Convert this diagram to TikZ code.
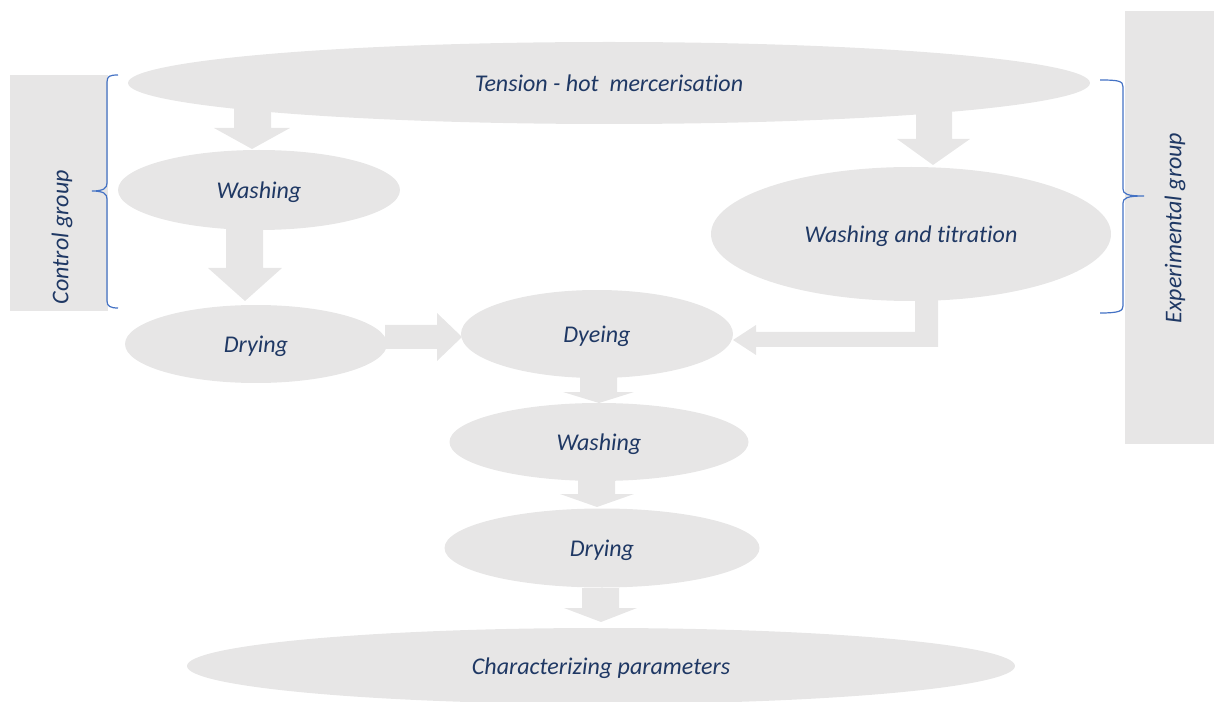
\documentclass[tikz,border=0pt]{standalone}
\usepackage{fontspec}
\setmainfont[Ligatures=NoCommon]{Carlito}
\usetikzlibrary{shapes.geometric}
\definecolor{boxgray}{HTML}{E7E6E6}
\definecolor{navy}{HTML}{1F3864}
\definecolor{braceblue}{HTML}{4472C4}
\tikzset{
  ell/.style 2 args={ellipse, fill=boxgray, draw=none, inner sep=0pt,
     minimum width=#1*0.75pt, minimum height=#2*0.75pt,
     text height=15.3pt, text depth=2.3pt,
     font=\fontsize{18}{21}\selectfont\itshape, text=navy},
  grouplabel/.style={rotate=90, font=\fontsize{18}{21}\selectfont\itshape, text=navy, inner sep=0pt},
  blockarrow/.style={fill=boxgray, draw=none},
  bracestyle/.style={draw=braceblue, line width=0.9pt},
}
\begin{document}
\begin{tikzpicture}[x=0.75pt, y=-0.75pt]
\useasboundingbox (0,0) rectangle (1214,702);
% group panels
\fill[boxgray] (10,75) rectangle (108,311);
\fill[boxgray] (1125,11) rectangle (1214,444);
\node[grouplabel] (ctrl) at (62,237) {Control group};
\node[grouplabel] (exp) at (1175,228) {Experimental group};

% block arrows
\fill[blockarrow] (234,100) -- (271,100) -- (271,128) -- (290,128) -- (252,149) -- (214,128) -- (234,128) -- cycle;
\fill[blockarrow] (916,105) -- (952,105) -- (952,139) -- (970,139) -- (933,165) -- (897,139) -- (916,139) -- cycle;
\fill[blockarrow] (226,225) -- (263,225) -- (263,268) -- (282,268) -- (245,301) -- (208,268) -- (226,268) -- cycle;
\fill[blockarrow] (385,325) -- (437,325) -- (437,313) -- (462,337) -- (437,361) -- (437,349) -- (385,349) -- cycle;
\fill[blockarrow] (915,285) -- (938,285) -- (938,347) -- (756,347) -- (756,355) -- (733,340) -- (756,325) -- (756,332) -- (915,332) -- cycle;
\fill[blockarrow] (580,375) -- (617,375) -- (617,392) -- (634,392) -- (599,403) -- (563,392) -- (580,392) -- cycle;
\fill[blockarrow] (578,478) -- (615,478) -- (615,494) -- (634,494) -- (597,507) -- (560,494) -- (578,494) -- cycle;
\fill[blockarrow] (582,588) -- (619,588) -- (619,608) -- (637,608) -- (601,622) -- (564,608) -- (582,608) -- cycle;

% ellipses
\node[ell={962}{82}] (merc) at (609,83) {Tension - hot\ \ mercerisation};
\node[ell={282}{80}] (wash1) at (259,190) {Washing};
\node[ell={400}{134}] (washtit) at (911,234) {Washing and titration};
\node[ell={262}{78}] (dry1) at (256,344) {Drying};
\node[ell={272}{88}] (dye) at (597,334) {Dyeing};
\node[ell={299}{78}] (wash2) at (599,442) {Washing};
\node[ell={315}{79}] (dry2) at (602,548) {Drying};
\node[ell={828}{76}] (char) at (601,666) {Characterizing parameters};

% braces
\draw[bracestyle] (118,75) .. controls (110,75) and (107,76) .. (107,82) -- (107,183)
   .. controls (107,188) and (104,191) .. (92,191)
   .. controls (104,191) and (107,194) .. (107,199) -- (107,301)
   .. controls (107,306) and (110,308) .. (118,308);
\draw[bracestyle] (1100,80) .. controls (1119,80) and (1123,81) .. (1123,87) -- (1123,189)
   .. controls (1123,194) and (1127,196) .. (1144,196)
   .. controls (1127,196) and (1123,198) .. (1123,203) -- (1123,306)
   .. controls (1123,311) and (1119,313) .. (1100,313);
\end{tikzpicture}
\end{document}
